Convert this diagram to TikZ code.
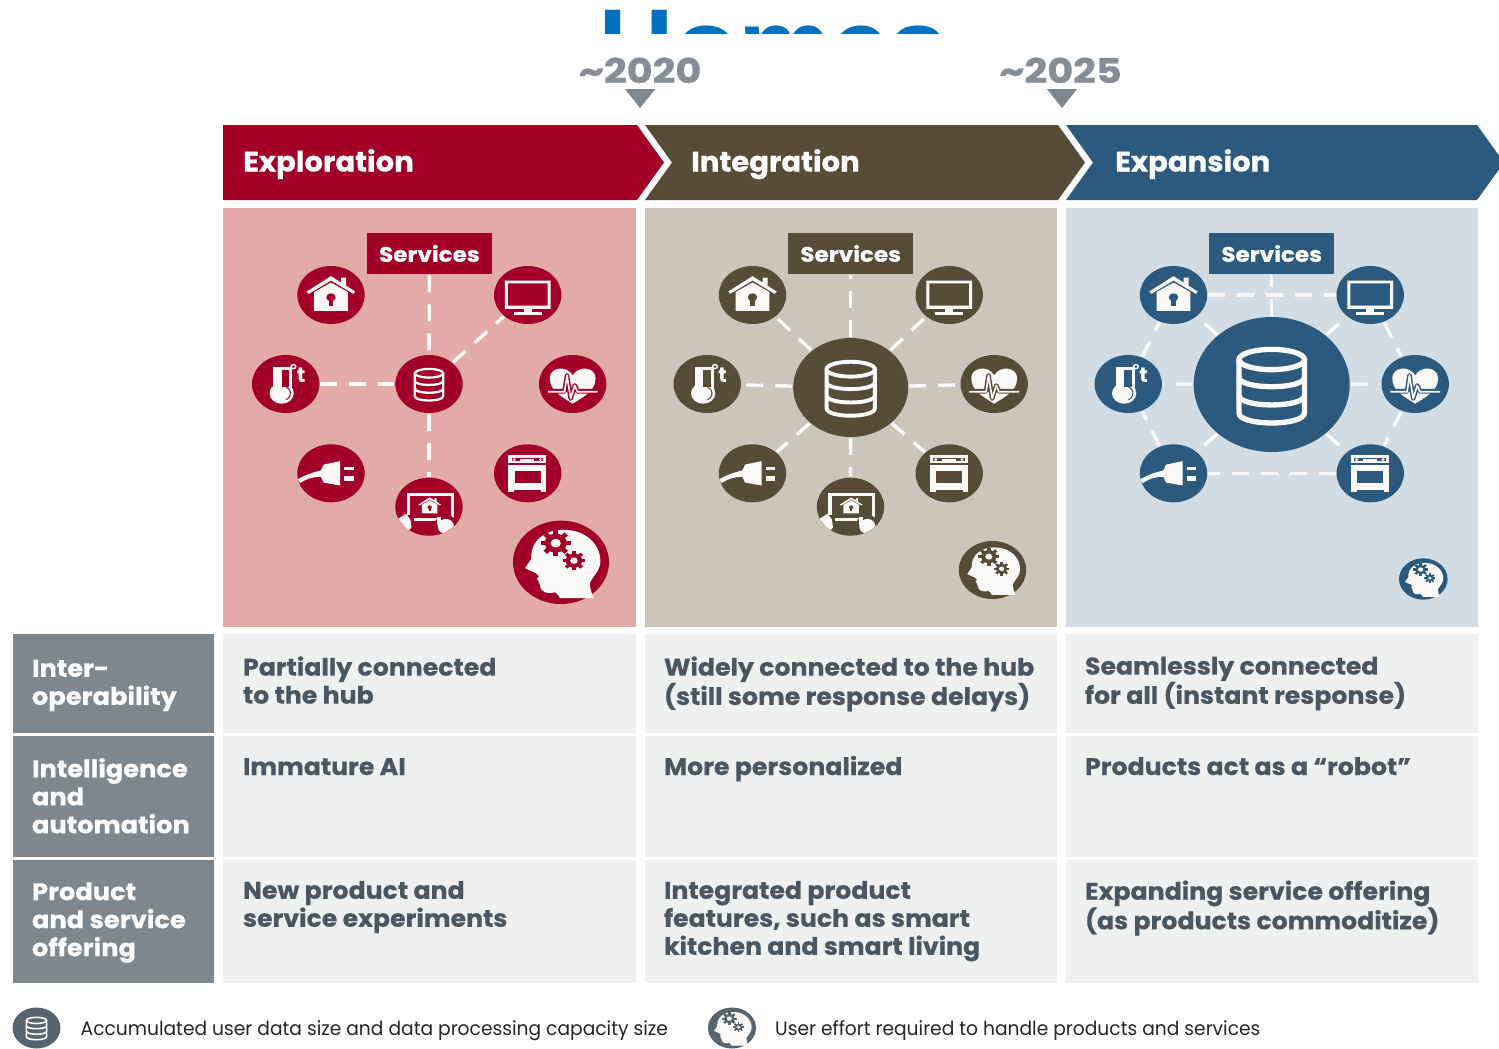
\documentclass[tikz,border=0pt]{standalone}
\usepackage{fontspec}
\usetikzlibrary{shapes.geometric}
\setmainfont{Poppins}
\newfontfamily\hdf{Poppins}[FakeStretch=1.05,BoldFeatures={FakeBold=0.5}]
\newfontfamily\lbf{Poppins}[FakeStretch=1.07,BoldFeatures={FakeBold=0.5}]
\newfontfamily\chf{Poppins}[FakeStretch=1.04,BoldFeatures={FakeBold=0.7}]
\newfontfamily\yrf{Poppins}[FakeStretch=1.17,BoldFeatures={FakeBold=0.9}]
\newfontfamily\svf{Poppins}[FakeStretch=1.1,BoldFeatures={FakeBold=0.5}]
\newfontfamily\legf{Poppins}[FakeStretch=0.957]
\newfontfamily\titlef{Liberation Sans}
\definecolor{cred}{HTML}{A30029}
\definecolor{cbrown}{HTML}{574C38}
\definecolor{cblue}{HTML}{2C5A7E}
\definecolor{pred}{HTML}{E3ABA7}
\definecolor{pbrown}{HTML}{CBC6B9}
\definecolor{pblue}{HTML}{D2DCE5}
\definecolor{lgrey}{HTML}{7F878E}
\definecolor{cellc}{HTML}{EFF1F1}
\definecolor{ctext}{HTML}{4A5661}
\definecolor{ytext}{HTML}{878D94}
\definecolor{iconw}{HTML}{FBFAF9}
\definecolor{legc}{HTML}{56656F}
\definecolor{titleblue}{HTML}{0070C0}
\tikzset{
 iconbg/.style={ellipse,inner sep=0pt,outer sep=0pt},
 dashline/.style={iconw,line width=3.4pt,dash pattern=on 17pt off 12pt,shorten >=1pt,shorten <=1pt},
 celltext/.style={anchor=north west,inner sep=0pt,outer sep=0pt,align=left,text=ctext,
   font=\hdf\bfseries\fontsize{24}{28}\selectfont,execute at begin node=\strut},
 labeltext/.style={celltext,text=white,font=\lbf\bfseries\fontsize{24}{28}\selectfont},
 headtext/.style={anchor=base west,inner sep=0pt,text=white,font=\chf\bfseries\fontsize{28}{30}\selectfont},
 yeartext/.style={anchor=base,inner sep=0pt,text=ytext,font=\yrf\bfseries\fontsize{34}{36}\selectfont},
 svctext/.style={rectangle,inner sep=0pt,outer sep=0pt,text=white,font=\svf\bfseries\fontsize{21}{22}\selectfont},
 legtext/.style={anchor=base west,inner sep=0pt,text=black!85,font=\legf\fontsize{19.5}{22}\selectfont},
}
% ---- icons, local frame: the enclosing ellipse has radius 1
\newcommand\ihouse{%
 \fill[iconw] (-.72,-.12)--(0,-.65)--(.3,-.43)--(.3,-.6)--(.45,-.6)--(.45,-.32)--(.72,-.12)--(.66,-.04)--(0,-.5)--(-.66,-.04)--cycle;
 \fill[iconw] (-.5,-.1)--(0,-.43)--(.5,-.1)--(.5,.55)--(-.5,.55)--cycle;
 \fill[\bgc] (0,.08) circle[radius=.14];
 \fill[\bgc] (-.06,.1) rectangle (.06,.38);
}
\newcommand\itv{%
 \fill[iconw,even odd rule] (-.68,-.5) rectangle (.68,.48) (-.59,-.4) rectangle (.59,.37);
 \fill[iconw] (-.12,.48) rectangle (.12,.62);
 \fill[iconw] (-.42,.6) rectangle (.42,.68);
}
\newcommand\itherm{%
 \fill[iconw] (-.37,-.58) rectangle (.2,.3);
 \fill[iconw] (-.12,.32) circle[radius=.36];
 \fill[\bgc] (-.12,-.47) rectangle (.1,.1);
 \draw[\bgc,line width=1pt] (-.12,.32) ++(60:.26) arc[start angle=60,end angle=-60,radius=.26];
 \draw[iconw,line width=1.4pt] (.23,-.6) circle[radius=.07];
 \node[inner sep=0pt,text=iconw,font=\bfseries\fontsize{21}{21}\selectfont] (\nm-t) at (.46,-.29) {t};
}
\newcommand\iheart{%
 \fill[iconw] (0,.68) .. controls (-.3,.45) and (-.68,.25) .. (-.68,-.2)
   .. controls (-.68,-.58) and (-.18,-.66) .. (0,-.3)
   .. controls (.18,-.66) and (.68,-.58) .. (.68,-.2)
   .. controls (.68,.25) and (.3,.45) .. (0,.68) -- cycle;
 \draw[\bgc,line width=4.6pt,line join=round] (-.76,.25)--(-.24,.25)--(-.17,-.3)--(-.06,.5)--(.06,.05)--(.14,.25)--(.76,.25);
 \draw[iconw,line width=1.7pt,line join=round] (-.74,.27)--(-.24,.27)--(-.17,-.3)--(-.06,.5)--(.06,.05)--(.14,.27)--(.74,.27);
}
\newcommand\iplug{%
 \fill[iconw] (-.98,.2) .. controls (-.7,.02) and (-.5,-.04) .. (-.3,-.1)
   -- (-.22,-.3) -- (.27,-.42) -- (.27,.42) -- (-.22,.32) -- (-.3,.12)
   .. controls (-.55,.12) and (-.75,.2) .. (-.92,.34) -- cycle;
 \fill[iconw] (.4,-.23) rectangle (.68,-.1);
 \fill[iconw] (.4,.1) rectangle (.68,.25);
}
\newcommand\ioven{%
 \fill[iconw] (-.57,-.63) rectangle (.55,.63);
 \fill[\bgc] (-.48,-.53) rectangle (.46,-.42);
 \fill[iconw] (-.4,-.47) circle[radius=.05] (.38,-.47) circle[radius=.05];
 \fill[iconw] (-.22,-.5) rectangle (.2,-.44);
 \fill[\bgc] (-.57,-.34) rectangle (.55,-.29);
 \fill[\bgc] (-.38,-.08) rectangle (.38,.33);
 \fill[\bgc] (-.4,.58) rectangle (.4,.63);
}
\newcommand\itablet{%
 \begin{scope}
 \clip (0,0) circle[radius=1];
 \fill[iconw] (-.66,-.46) rectangle (.74,.5);
 \fill[\bgc] (-.56,-.36) rectangle (.64,.38);
 \begin{scope}[shift={(.02,-.02)},scale=.46] \ihouse \end{scope}
 \fill[\bgc] (-.7,.3) rectangle (-.46,.56);
 \fill[iconw] (-.92,.42)--(-.68,.24)--(-.55,.45)--(-.52,.72)--(-.62,.84)--cycle;
 \fill[\bgc] (.5,.64) ellipse[x radius=.34,y radius=.36];
 \fill[iconw] (.5,.68) ellipse[x radius=.24,y radius=.26];
 \fill[iconw] (.24,.36) rectangle (.36,.62);
 \end{scope}
}
\newcommand\idb{%
 \begin{scope}[iconw,line width=\ilw pt]
 \draw (0,-.37) ellipse[x radius=.42,y radius=.15];
 \draw (-.42,-.37) -- (-.42,.42) .. controls (-.42,.62) and (.42,.62) .. (.42,.42) -- (.42,-.37);
 \draw (-.42,-.11) .. controls (-.42,.08) and (.42,.08) .. (.42,-.11);
 \draw (-.42,.16) .. controls (-.42,.35) and (.42,.35) .. (.42,.16);
 \end{scope}
}
\newcommand\gearshape[3]{%
 \fill[\bgc] (#1,#2) circle[radius={.74*#3}];
 \foreach \ga in {0,45,90,135}{
  \fill[\bgc,shift={(#1,#2)},rotate=\ga] ({-.17*#3},{-#3}) rectangle ({.17*#3},{#3});
 }
 \fill[iconw] (#1,#2) circle[radius={.34*#3}];
}
\newcommand\ibrain{%
 \fill[iconw] (-.75,.14) -- (-.62,-.08) .. controls (-.64,-.55) and (-.3,-.78) .. (.05,-.78)
  .. controls (.5,-.78) and (.82,-.45) .. (.82,-.02) .. controls (.82,.2) and (.65,.35) .. (.6,.5)
  .. controls (.6,.65) and (.65,.76) .. (.68,.86) -- (-.02,.86) .. controls (-.05,.8) and (-.08,.74) .. (-.12,.72)
  .. controls (-.25,.76) and (-.42,.75) .. (-.44,.55) -- (-.46,.47) -- (-.5,.4) -- (-.46,.33) -- (-.52,.26) -- (-.6,.22) -- cycle;
 \gearshape{-.11}{-.46}{.31}
 \gearshape{.27}{-.04}{.23}
}
\newcommand\icn[7]{%
 \node[iconbg,fill=#6,minimum width={2*#4*1pt},minimum height={2*#5*1pt}] (#1) at (#2,#3) {};
 \begin{scope}[shift={(#1.center)},xscale=#4,yscale=#5]
  \def\bgc{#6}\def\nm{#1}\pgfmathsetmacro\ilw{#4*.068}
  #7
 \end{scope}
}
% ring of icons for one column: prefix, x offset, colour
\newcommand\ring[3]{%
 \icn{#1house}{#2+331}{295}{33.7}{29}{#3}{\ihouse}
 \icn{#1tv}{#2+527.7}{295}{33.7}{29}{#3}{\itv}
 \icn{#1therm}{#2+285.7}{384}{33.7}{29}{#3}{\itherm}
 \icn{#1heart}{#2+572.7}{384}{33.7}{29}{#3}{\iheart}
 \icn{#1plug}{#2+331}{473.3}{33.7}{29}{#3}{\iplug}
 \icn{#1oven}{#2+527.7}{473.3}{33.7}{29}{#3}{\ioven}
}
\begin{document}
\begin{tikzpicture}[x=1pt,y=-1pt]
\useasboundingbox (0,0) rectangle (1499,1049);
\fill[white] (0,0) rectangle (1499,1049);
% clipped title
\begin{scope}
 \clip (500,0) rectangle (1000,34);
 \node[anchor=base west,inner sep=0pt,text=titleblue,font=\titlef\bfseries\fontsize{105}{105}\selectfont] (title) at (598,82) {Homes};
\end{scope}
% years
\node[yeartext] (y1) at (640,83) {\char"7E 2020};
\node[yeartext] (y2) at (1060.5,83) {\char"7E 2025};
\fill[lgrey] (625,89)--(655.5,89)--(640,108)--cycle;
\fill[lgrey] (1047,89)--(1077,89)--(1062,108)--cycle;
% chevrons
\begin{scope}
\clip (0,0) rectangle (1499,1049);
\fill[cred] (223,125)--(637,125)--(664,162.5)--(637,200)--(223,200)--cycle;
\fill[cbrown] (645,125)--(1058,125)--(1085,162.5)--(1058,200)--(645,200)--(672,162.5)--cycle;
\fill[cblue] (1066,125)--(1477,125)--(1504,162.5)--(1477,200)--(1066,200)--(1093,162.5)--cycle;
\end{scope}
\node[headtext] (h1) at (243,171.5) {Exploration};
\node[headtext] (h2) at (691,171.5) {Integration};
\node[headtext] (h3) at (1115,171.5) {Expansion};
% panels
\fill[pred] (223,208) rectangle (636,627);
\fill[pbrown] (645,208) rectangle (1057,627);
\fill[pblue] (1066,208) rectangle (1478,627);
% column 1
\node[svctext,fill=cred,minimum width=124.7pt,minimum height=41.6pt] (as) at (429.4,253.5) {Services};
\ring{a}{0}{cred}
\icn{ahub}{429}{384}{33.7}{29}{cred}{\idb}
\icn{atab}{429}{506.7}{33.7}{29}{cred}{\itablet}
\icn{abrain}{561}{562.3}{48}{41.7}{cred}{\ibrain}
\draw[dashline] (as) -- (ahub);
\draw[dashline] (ahub) -- (atab);
\draw[dashline] (atherm) -- (ahub);
\draw[dashline] (ahub) -- (atv);
% column 2
\node[svctext,fill=cbrown,minimum width=124.7pt,minimum height=41.6pt] (bs) at (850.7,253.5) {Services};
\ring{b}{421.5}{cbrown}
\icn{bhub}{850.7}{387.5}{57.5}{49.5}{cbrown}{\idb}
\icn{btab}{850.5}{506.7}{33.7}{29}{cbrown}{\itablet}
\icn{bbrain}{992.5}{570}{33.7}{29}{cbrown}{\ibrain}
\foreach \n in {s,tab,house,tv,therm,heart,plug,oven}{\draw[dashline] (bhub) -- (b\n);}
% column 3
\node[svctext,fill=cblue,minimum width=124.7pt,minimum height=41.6pt] (cs) at (1271.7,253.5) {Services};
\ring{c}{842.5}{cblue}
\icn{chub}{1271.7}{384.5}{78}{67.5}{cblue}{\idb}
\icn{cbrain}{1423.3}{579}{24.3}{20.7}{cblue}{\ibrain}
\foreach \n in {s,house,tv,therm,heart,plug,oven}{\draw[dashline] (chub) -- (c\n);}
\draw[dashline] (chouse) -- (ctv);
\draw[dashline] (ctv) -- (cheart);
\draw[dashline] (cheart) -- (coven);
\draw[dashline] (coven) -- (cplug);
\draw[dashline] (cplug) -- (ctherm);
\draw[dashline] (ctherm) -- (chouse);
% table
\fill[lgrey] (12.5,634) rectangle (214,733);
\fill[lgrey] (12.5,736) rectangle (214,857);
\fill[lgrey] (12.5,860) rectangle (214,983);
\foreach \xa/\xb in {223/636,645/1057,1066/1478}{
 \fill[cellc] (\xa,634) rectangle (\xb,733);
 \fill[cellc] (\xa,736) rectangle (\xb,857);
 \fill[cellc] (\xa,860) rectangle (\xb,983);
}
\node[labeltext] (l1) at (32,659.9) {Inter-\\operability};
\node[labeltext] (l2) at (32,758) {Intelligence\\and\\automation};
\node[labeltext] (l3) at (32,882.4) {Product\\and service\\offering};
\node[celltext] (t11) at (243,656.4) {Partially connected\\to the hub};
\node[celltext] (t12) at (664,656.4) {Widely connected to the hub\\(still some response delays)};
\node[celltext] (t13) at (1085,656.8) {Seamlessly connected\\for all (instant response)};
\node[celltext] (t21) at (243,755.4) {Immature AI};
\node[celltext] (t22) at (664,755.4) {More personalized};
\node[celltext] (t23) at (1085,755.4) {Products act as a “robot”};
\node[celltext] (t31) at (243,881) {New product and\\service experiments};
\node[celltext] (t32) at (664,881) {Integrated product\\features, such as smart\\kitchen and smart living};
\node[celltext] (t33) at (1085,880.5) {Expanding service offering\\(as products commoditize)};
% legend
\icn{ldb}{36.5}{1028}{24}{20.5}{legc}{\idb}
\node[legtext] (ltx1) at (80.5,1035) {Accumulated user data size and data processing capacity size};
\icn{lbrain}{732}{1028}{24}{20.5}{legc}{\ibrain}
\node[legtext] (ltx2) at (775,1035) {User effort required to handle products and services};
\end{tikzpicture}
\end{document}
